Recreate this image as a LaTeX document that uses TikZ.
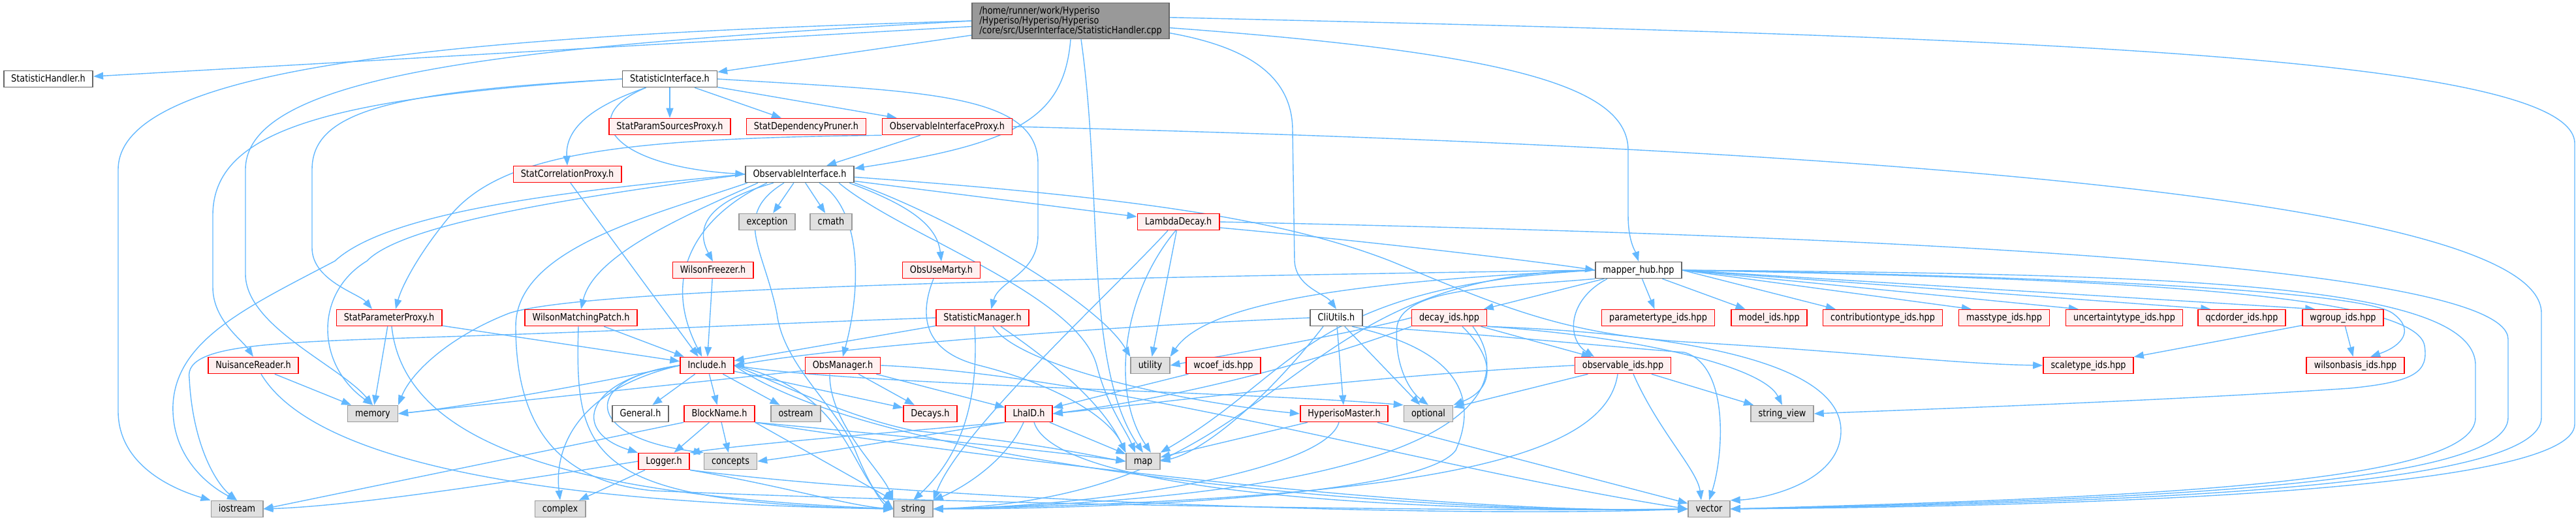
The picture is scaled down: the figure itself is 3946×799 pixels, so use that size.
\documentclass[tikz,border=0pt]{standalone}
\usepackage{fontspec}
\setmainfont{DejaVu Sans}[FakeStretch=0.85]
\usetikzlibrary{arrows.meta,backgrounds}

\definecolor{edgeblue}{HTML}{63B8FF}
\definecolor{redfill}{HTML}{FFF0F0}
\definecolor{sysfill}{HTML}{E0E0E0}
\definecolor{sysline}{HTML}{999999}
\definecolor{fileline}{HTML}{666666}
\definecolor{mainfill}{HTML}{999999}

\tikzset{
  nodebase/.style={font=\fontsize{7.55}{7.5}\selectfont, inner xsep=5.75pt, inner ysep=2pt,
    minimum height=12.5pt, line width=0.8pt},
  filebox/.style={nodebase, text height=5.7pt, text depth=1.7pt, draw=fileline, fill=white},
  redbox/.style={nodebase, text height=5.7pt, text depth=1.7pt, draw=red, fill=redfill},
  sysbox/.style={nodebase, text height=5.7pt, text depth=1.7pt, draw=sysline, fill=sysfill},
  mainbox/.style={nodebase, minimum height=27.5pt, align=left, draw=fileline, fill=mainfill},
  dep/.style={draw=edgeblue, line width=0.7pt, -{Triangle[length=7.5pt,width=5.5pt]}}
}

\begin{document}
\begin{tikzpicture}[x=0.5pt, y=0.5pt]
  \useasboundingbox (0,0) rectangle (3946,-799);

  % File being documented
  \node[mainbox] (main) at (1640,-32) {/home/runner/work/Hyperiso\\/Hyperiso/Hyperiso/Hyperiso\\/core/src/UserInterface/StatisticHandler.cpp};

  % Row 1
  \node[filebox] (shh) at (74,-121) {StatisticHandler.h};
  \node[filebox] (sif) at (1026,-121) {StatisticInterface.h};

  % Row 2
  \node[redbox] (spsp) at (1026,-194) {StatParamSourcesProxy.h};
  \node[redbox] (sdp) at (1235,-194) {StatDependencyPruner.h};
  \node[redbox] (oip) at (1451,-194) {ObservableInterfaceProxy.h};

  % Row 3
  \node[redbox] (scp) at (869,-267) {StatCorrelationProxy.h};
  \node[filebox] (oi) at (1225,-267) {ObservableInterface.h};

  % Row 4
  \node[sysbox] (exc) at (1175,-340) {exception};
  \node[sysbox] (cmath) at (1273,-340) {cmath};
  \node[redbox] (ld) at (1805,-340) {LambdaDecay.h};

  % Row 5
  \node[redbox] (wf) at (1092,-414) {WilsonFreezer.h};
  \node[redbox] (oum) at (1442,-414) {ObsUseMarty.h};
  \node[filebox] (mh) at (2510,-414) {mapper\_hub.hpp};

  % Row 6
  \node[redbox] (spp) at (596,-487) {StatParameterProxy.h};
  \node[redbox] (wmp) at (890,-487) {WilsonMatchingPatch.h};
  \node[redbox] (sm) at (1505,-487) {StatisticManager.h};
  \node[filebox] (cli) at (2047,-487) {CliUtils.h};
  \node[redbox] (dec) at (2220,-487) {decay\_ids.hpp};
  \node[redbox] (ptid) at (2540,-487) {parametertype\_ids.hpp};
  \node[redbox] (mod) at (2710,-487) {model\_ids.hpp};
  \node[redbox] (ctid) at (2884,-487) {contributiontype\_ids.hpp};
  \node[redbox] (mtid) at (3070,-487) {masstype\_ids.hpp};
  \node[redbox] (utid) at (3254,-487) {uncertaintytype\_ids.hpp};
  \node[redbox] (qcd) at (3434,-487) {qcdorder\_ids.hpp};
  \node[redbox] (wg) at (3589,-487) {wgroup\_ids.hpp};

  % Row 7
  \node[redbox] (nr) at (388,-560) {NuisanceReader.h};
  \node[redbox] (inc) at (1083,-560) {Include.h};
  \node[redbox] (om) at (1291,-560) {ObsManager.h};
  \node[sysbox] (util) at (1762,-560) {utility};
  \node[redbox] (wcoef) at (1874,-560) {wcoef\_ids.hpp};
  \node[redbox] (obsid) at (2486,-560) {observable\_ids.hpp};
  \node[redbox] (scid) at (3199,-560) {scaletype\_ids.hpp};
  \node[redbox] (wb) at (3608,-560) {wilsonbasis\_ids.hpp};

  % Row 8
  \node[sysbox] (mem) at (571,-634) {memory};
  \node[filebox] (gen) at (981,-634) {General.h};
  \node[redbox] (bn) at (1102,-634) {BlockName.h};
  \node[sysbox] (ost) at (1219,-634) {ostream};
  \node[redbox] (decays) at (1425,-634) {Decays.h};
  \node[redbox] (lha) at (1576,-634) {LhaID.h};
  \node[redbox] (hm) at (2059,-634) {HyperisoMaster.h};
  \node[sysbox] (opt) at (2188,-634) {optional};
  \node[sysbox] (sv) at (2730,-634) {string\_view};

  % Row 9
  \node[redbox] (log) at (1017,-707) {Logger.h};
  \node[sysbox] (conc) at (1119,-707) {concepts};
  \node[sysbox] (map) at (1751,-707) {map};

  % Row 10
  \node[sysbox] (ios) at (363,-780) {iostream};
  \node[sysbox] (cplx) at (858,-780) {complex};
  \node[sysbox] (str) at (1399,-780) {string};
  \node[sysbox] (vec) at (2618,-780) {vector};

  \begin{scope}[on background layer]
    % StatisticHandler.cpp
    \draw[dep] (main) -- (shh);
    \draw[dep] (main.west) .. controls (700,-55) and (181,-100) .. (181,-260) -- (181,-630) .. controls (181,-705) and (250,-745) .. (ios.north west);
    \draw[dep] (main.west) .. controls (800,-70) and (376,-110) .. (376,-260) -- (376,-420) .. controls (376,-500) and (520,-560) .. (mem.north);
    \draw[dep] (main) -- (sif);
    \draw[dep] (main.south) .. controls (1630,-180) and (1560,-220) .. (oi.6);
    \draw[dep] ([xshift=8pt]main.south) .. controls (1690,-300) and (1660,-560) .. (map.north);
    \draw[dep] (main.-4) .. controls (2300,-80) and (2494,-130) .. (2494,-230) -- (2494,-330) .. controls (2494,-370) and (2505,-385) .. (mh.north);
    \draw[dep] (main.-7) .. controls (1900,-70) and (1980,-110) .. (1980,-200) -- (1983,-400) .. controls (1985,-440) and (2030,-450) .. (cli.north);
    \draw[dep] (main.2) .. controls (3000,-55) and (3944,-80) .. (3944,-220) -- (3944,-650) .. controls (3944,-745) and (3300,-775) .. (vec.east);

    % StatisticInterface.h
    \draw[dep] (sif) -- (spsp);
    \draw[dep] (sif) -- (sdp);
    \draw[dep] (sif) -- (oip);
    \draw[dep] (sif.-160) .. controls (900,-165) and (866,-200) .. (scp.north);
    \draw[dep] (sif.-160) .. controls (880,-180) and (940,-255) .. (oi.west);
    \draw[dep] (sif.east) .. controls (1400,-140) and (1590,-140) .. (1590,-250) -- (1590,-360) .. controls (1590,-420) and (1530,-430) .. (sm.45);
    \draw[dep] (sif.west) .. controls (600,-140) and (478,-170) .. (478,-260) -- (478,-380) .. controls (478,-430) and (550,-450) .. ([xshift=-13pt]spp.north);
    \draw[dep] (sif.west) .. controls (500,-150) and (326,-200) .. (326,-330) -- (326,-440) .. controls (326,-490) and (370,-520) .. (nr.north);

    % ObservableInterfaceProxy.h
    \draw[dep] (oip) -- (oi);
    \draw[dep] (oip.south west) .. controls (950,-212) and (770,-235) .. (690,-330) .. controls (640,-390) and (615,-440) .. ([xshift=5pt]spp.north);
    \draw[dep] (oip.east) .. controls (2800,-225) and (3893,-300) .. (3893,-480) -- (3893,-640) .. controls (3893,-745) and (3300,-770) .. (vec.east);

    % StatCorrelationProxy.h
    \draw[dep] (scp.-70) -- (inc.135);

    % ObservableInterface.h
    \draw[dep] (oi) -- (exc);
    \draw[dep] (oi) -- (cmath);
    \draw[dep] (oi) -- (ld);
    \draw[dep] ([xshift=-20pt]oi.south) .. controls (1080,-310) and (1065,-350) .. (wf.north);
    \draw[dep] ([xshift=-25pt]oi.south) .. controls (1070,-330) and (1010,-420) .. (inc.120);
    \draw[dep] ([xshift=-32pt]oi.south) .. controls (1050,-330) and (910,-390) .. (wmp.north);
    \draw[dep] ([xshift=-40pt]oi.south) .. controls (1000,-330) and (790,-380) .. (790,-500) .. controls (790,-680) and (880,-740) .. (1000,-752) .. controls (1400,-770) and (2200,-785) .. (vec.west);
    \draw[dep] ([xshift=-12pt]oi.south) .. controls (1120,-330) and (1170,-380) .. (1190,-480) .. controls (1200,-560) and (1280,-620) .. (1310,-690) .. controls (1330,-740) and (1350,-770) .. (str.west);
    \draw[dep] ([xshift=15pt]oi.south) .. controls (1320,-320) and (1320,-440) .. (om.north);
    \draw[dep] ([xshift=30pt]oi.south) .. controls (1380,-360) and (1650,-450) .. (1680,-560) .. controls (1695,-620) and (1725,-660) .. ([xshift=-6pt]map.north);
    \draw[dep] ([xshift=38pt]oi.south) .. controls (1380,-310) and (1435,-340) .. (oum.north);
    \draw[dep] (oi.south east) .. controls (1450,-330) and (1680,-460) .. (util.north west);
    \draw[dep] (oi.-3) .. controls (1700,-300) and (1950,-330) .. (2130,-400) .. controls (2300,-470) and (2400,-515) .. (2600,-525) .. controls (2850,-540) and (3000,-558) .. (scid.west);
    \draw[dep] (oi.west) .. controls (900,-300) and (620,-340) .. (562,-400) .. controls (480,-450) and (485,-560) .. (mem.north);
    \draw[dep] (oi.west) .. controls (900,-290) and (600,-320) .. (513,-400) .. controls (380,-470) and (270,-520) .. (265,-620) .. controls (262,-700) and (320,-745) .. (ios.north);

    % LambdaDecay.h
    \draw[dep] (ld) -- (util);
    \draw[dep] ([xshift=-8pt]ld.south) .. controls (1700,-450) and (1470,-660) .. (str.north east);
    \draw[dep] ([xshift=-2pt]ld.south) .. controls (1720,-450) and (1700,-600) .. ([xshift=6pt]map.north);
    \draw[dep] (ld.-8) .. controls (2100,-370) and (2350,-400) .. (mh.west);
    \draw[dep] (ld.east) .. controls (2800,-360) and (3842,-400) .. (3842,-520) -- (3842,-640) .. controls (3842,-742) and (3300,-766) .. (vec.east);

    % WilsonFreezer.h, ObsUseMarty.h
    \draw[dep] (wf) -- (inc);
    \draw[dep] ([xshift=-6pt]oum.south) .. controls (1405,-490) and (1420,-540) .. (1500,-560) .. controls (1620,-590) and (1700,-640) .. (map.north west);

    % ObsManager.h
    \draw[dep] (om) -- (decays);
    \draw[dep] (om) -- (lha);
    \draw[dep] ([yshift=-4pt]om.west) -- (mem.east);
    \draw[dep] ([xshift=-10pt]om.south) .. controls (1270,-650) and (1350,-720) .. (str.north west);
    \draw[dep] (om.east) .. controls (1700,-575) and (2200,-720) .. (vec.west);

    % StatisticManager.h
    \draw[dep] (sm) -- (inc);
    \draw[dep] ([xshift=8pt]sm.south) .. controls (1560,-560) and (1800,-615) .. (hm.west);
    \draw[dep] ([xshift=14pt]sm.south) .. controls (1620,-560) and (1690,-620) .. (map.north west);
    \draw[dep] ([xshift=-6pt]sm.south) .. controls (1500,-620) and (1470,-700) .. (str.north);
    \draw[dep] (sm.west) .. controls (1200,-495) and (1000,-505) .. (800,-512) .. controls (450,-525) and (280,-520) .. (290,-580) .. controls (295,-680) and (330,-740) .. (ios.north);

    % StatParameterProxy.h, NuisanceReader.h, WilsonMatchingPatch.h
    \draw[dep] (spp) -- (mem);
    \draw[dep] (spp) -- (inc);
    \draw[dep] ([xshift=2pt]spp.south) .. controls (620,-690) and (900,-760) .. (str.west);
    \draw[dep] (nr) -- (mem);
    \draw[dep] ([xshift=6pt]nr.south) .. controls (470,-690) and (750,-770) .. (str.west);
    \draw[dep] (wmp) -- (inc);
    \draw[dep] ([xshift=-2pt]wmp.south) .. controls (880,-700) and (900,-770) .. (str.west);

    % Include.h
    \draw[dep] (inc) -- (gen);
    \draw[dep] (inc) -- (bn);
    \draw[dep] (inc) -- (ost);
    \draw[dep] (inc) -- (decays);
    \draw[dep] (inc.west) .. controls (900,-580) and (870,-660) .. (log.north west);
    \draw[dep] (inc.west) .. controls (890,-580) and (890,-670) .. (conc.north west);
    \draw[dep] (inc.west) .. controls (870,-600) and (850,-700) .. (cplx.north);
    \draw[dep] (inc.west) .. controls (900,-590) and (700,-625) .. (mem.east);
    \draw[dep] (inc.east) .. controls (1200,-590) and (1300,-640) .. (1400,-660) .. controls (1600,-680) and (1680,-700) .. (map.west);
    \draw[dep] (inc.east) .. controls (1300,-600) and (1300,-720) .. (str.west);
    \draw[dep] (inc.east) .. controls (1350,-720) and (2200,-790) .. (vec.west);
    \draw[dep] (inc.east) .. controls (1300,-590) and (1900,-600) .. (opt.north west);

    % BlockName.h
    \draw[dep] (bn) -- (log);
    \draw[dep] (bn) -- (conc);
    \draw[dep] (bn.south west) -- (ios.east);
    \draw[dep] (bn.south east) -- (str.north west);
    \draw[dep] (bn.south east) .. controls (1350,-665) and (1600,-690) .. (map.west);
    \draw[dep] (bn.south east) .. controls (1500,-700) and (2200,-790) .. (vec.west);

    % Logger.h
    \draw[dep] (log) -- (cplx);
    \draw[dep] (log.west) .. controls (800,-735) and (550,-775) .. (ios.east);
    \draw[dep] (log.south east) .. controls (1200,-745) and (1300,-775) .. (str.west);
    \draw[dep] (log.south east) .. controls (1400,-765) and (2200,-795) .. (vec.west);

    % LhaID.h
    \draw[dep] (lha) -- (map);
    \draw[dep] ([xshift=-4pt]lha.south) .. controls (1540,-710) and (1470,-750) .. (str.north east);
    \draw[dep] ([xshift=4pt]lha.south) .. controls (1620,-760) and (2200,-785) .. (vec.west);
    \draw[dep] (lha.south west) .. controls (1400,-670) and (1250,-695) .. (conc.east);
    \draw[dep] (lha.south west) .. controls (1400,-660) and (1150,-680) .. (log.north east);

    % wcoef_ids.hpp, decay_ids.hpp
    \draw[dep] (wcoef) -- (lha);
    \draw[dep] (dec.south west) .. controls (2000,-560) and (1800,-610) .. (lha.east);
    \draw[dep] ([xshift=10pt]dec.south) .. controls (2300,-560) and (2280,-600) .. (opt.north east);
    \draw[dep] ([xshift=18pt]dec.south) .. controls (2330,-600) and (2250,-760) .. (str.east);
    \draw[dep] (dec.west) .. controls (2050,-515) and (1900,-540) .. (util.east);
    \draw[dep] (dec) -- (obsid);
    \draw[dep] (dec.south east) .. controls (2600,-512) and (2820,-560) .. (2820,-660) .. controls (2820,-740) and (2700,-765) .. (vec.north east);
    \draw[dep] (dec.south east) .. controls (2500,-515) and (2700,-560) .. (sv.north);

    % observable_ids.hpp
    \draw[dep] (obsid) -- (opt);
    \draw[dep] ([xshift=8pt]obsid.south) .. controls (2540,-660) and (2600,-720) .. ([xshift=-6pt]vec.north);
    \draw[dep] (obsid.west) .. controls (2100,-575) and (1800,-615) .. (lha.east);
    \draw[dep] ([xshift=-4pt]obsid.south) .. controls (2460,-700) and (2200,-765) .. (str.east);
    \draw[dep] (obsid) -- (sv);

    % HyperisoMaster.h
    \draw[dep] (hm) -- (map);
    \draw[dep] ([xshift=-4pt]hm.south) .. controls (2030,-720) and (1700,-775) .. (str.east);
    \draw[dep] (hm) -- (vec);

    % CliUtils.h
    \draw[dep] (cli) -- (hm);
    \draw[dep] (cli) -- (opt);
    \draw[dep] ([xshift=12pt]cli.south) .. controls (2250,-540) and (2260,-620) .. (2230,-690) .. controls (2180,-760) and (1700,-780) .. (str.east);
    \draw[dep] (cli.south east) .. controls (2250,-510) and (2450,-530) .. (2580,-540) .. controls (2650,-560) and (2640,-700) .. (vec.north);
    \draw[dep] (cli.west) .. controls (1700,-500) and (1300,-530) .. (inc.east);
    \draw[dep] ([xshift=-10pt]cli.south) .. controls (1950,-600) and (1850,-690) .. (map.east);

    % mapper_hub.hpp
    \draw[dep] (mh) -- (dec);
    \draw[dep] (mh) -- (ptid);
    \draw[dep] (mh) -- (mod);
    \draw[dep] (mh.east) -- ([xshift=10pt]ctid.north west);
    \draw[dep] (mh.east) -- ([xshift=10pt]mtid.north west);
    \draw[dep] (mh.east) -- ([xshift=10pt]utid.north west);
    \draw[dep] (mh.east) -- ([xshift=10pt]qcd.north west);
    \draw[dep] (mh.east) -- ([xshift=10pt]wg.north west);
    \draw[dep] ([xshift=-24pt]mh.south) .. controls (2400,-460) and (2400,-520) .. ([xshift=-22pt]obsid.north);
    \draw[dep] (mh.south west) .. controls (2300,-440) and (2150,-440) .. (2140,-500) .. controls (2135,-560) and (2160,-600) .. (opt.north);
    \draw[dep] (mh.west) .. controls (2100,-430) and (1850,-460) .. (util.north east);
    \draw[dep] (mh.west) .. controls (2000,-440) and (1990,-570) .. (map.north east);
    \draw[dep] (mh.west) .. controls (1950,-420) and (1980,-760) .. (str.east);
    \draw[dep] (mh.west) .. controls (1700,-425) and (900,-440) .. (780,-480) .. controls (690,-515) and (630,-570) .. (mem.north east);
    \draw[dep] (mh.east) .. controls (3000,-420) and (3610,-440) .. (3665,-480) .. controls (3700,-505) and (3680,-530) .. (wb.30);
    \draw[dep] (mh.east) .. controls (3100,-425) and (3700,-440) .. (3714,-530) .. controls (3720,-570) and (3700,-585) .. (3600,-595) .. controls (3300,-615) and (3000,-625) .. (sv.east);
    \draw[dep] (mh.east) .. controls (3300,-420) and (3792,-430) .. (3792,-560) -- (3792,-640) .. controls (3792,-740) and (3300,-762) .. (vec.east);

    % wgroup_ids.hpp
    \draw[dep] (wg) -- (scid);
    \draw[dep] (wg) -- (wb);
  \end{scope}
\end{tikzpicture}
\end{document}
